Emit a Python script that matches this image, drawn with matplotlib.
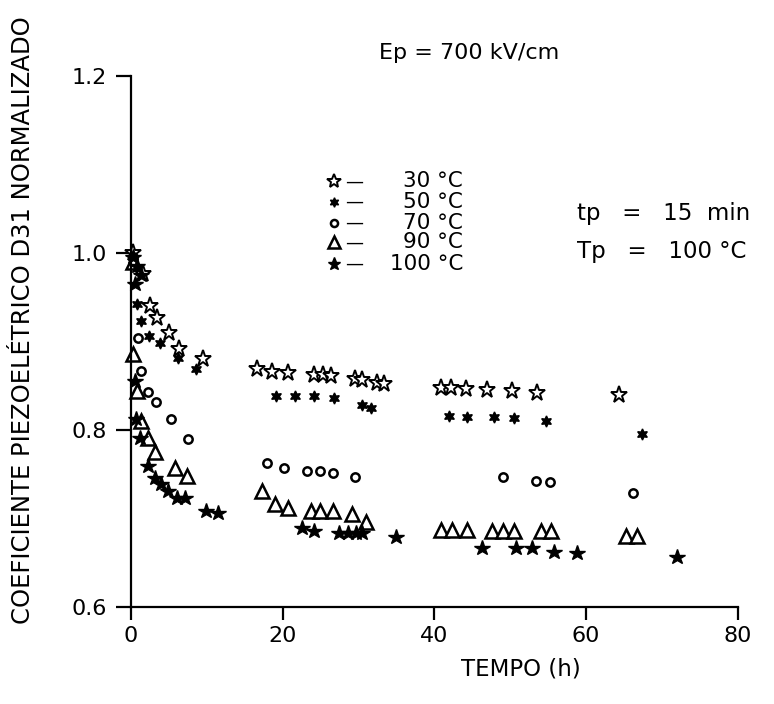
import numpy as np
import matplotlib.pyplot as plt

# tempo (h) e coeficiente d31 normalizado para cada temperatura
t30 = [0.3, 1.6, 2.5, 3.4, 5.1, 6.4, 9.5, 16.7, 18.6, 20.7, 24.2, 25.3, 26.4, 29.5, 30.5,
       32.4, 33.4, 40.9, 42.2, 44.2, 47.0, 50.3, 53.6, 64.3]
d30 = [1.0, 0.976, 0.940, 0.927, 0.910, 0.891, 0.880, 0.869, 0.866, 0.864, 0.862, 0.862,
       0.861, 0.858, 0.856, 0.853, 0.852, 0.847, 0.847, 0.846, 0.845, 0.844, 0.842, 0.840]

t50 = [0.3, 0.8, 1.4, 2.4, 3.8, 6.2, 8.6, 19.2, 21.6, 24.2, 26.8, 30.5, 31.7, 42.0, 44.3,
       47.9, 50.5, 54.7, 67.4]
d50 = [0.99, 0.942, 0.923, 0.906, 0.898, 0.881, 0.869, 0.838, 0.838, 0.838, 0.836, 0.828,
       0.825, 0.816, 0.815, 0.815, 0.814, 0.810, 0.795]

t70 = [0.3, 0.9, 1.3, 2.3, 3.3, 5.3, 7.6, 18.0, 20.2, 23.2, 25.0, 26.6, 29.6, 49.1, 53.4,
       55.2, 66.2]
d70 = [0.995, 0.904, 0.867, 0.843, 0.832, 0.812, 0.790, 0.763, 0.757, 0.753, 0.753, 0.751,
       0.747, 0.747, 0.742, 0.741, 0.729]

t90 = [0.3, 0.3, 0.8, 1.4, 2.3, 3.2, 5.8, 7.4, 17.3, 19.0, 20.7, 23.7, 24.9, 26.6, 29.1,
       31.0, 40.9, 42.4, 44.3, 47.6, 49.1, 50.5, 54.1, 55.4, 65.3, 66.8]
d90 = [0.99, 0.886, 0.844, 0.810, 0.791, 0.775, 0.757, 0.748, 0.731, 0.716, 0.712, 0.708,
       0.708, 0.708, 0.705, 0.696, 0.687, 0.687, 0.687, 0.686, 0.686, 0.686, 0.686, 0.686,
       0.680, 0.680]

t100 = [0.3, 0.8, 1.4, 0.5, 0.5, 0.7, 1.2, 2.3, 3.2, 4.0, 4.9, 6.1, 7.2, 9.9, 11.5, 22.6,
        24.2, 27.5, 28.6, 29.7, 30.5, 35.0, 46.3, 50.8, 52.9, 55.8, 58.8, 72.0]
d100 = [0.995, 0.985, 0.975, 0.965, 0.855, 0.812, 0.791, 0.759, 0.746, 0.739, 0.731, 0.723,
        0.723, 0.708, 0.706, 0.689, 0.686, 0.684, 0.684, 0.684, 0.684, 0.679, 0.667, 0.667,
        0.667, 0.662, 0.661, 0.656]

temps = ["30", "50", "70", "90", "100"]

styles = [
    dict(marker="*", mfc="white", mec="black", ms=12.5, mew=1.4),
    dict(marker=(6, 1, 0), mfc="black", mec="black", ms=8, mew=1),
    dict(marker="o", mfc="white", mec="black", ms=6, mew=1.8),
    dict(marker="^", mfc="white", mec="black", ms=10, mew=1.8),
    dict(marker="*", mfc="black", mec="black", ms=11.5, mew=1),
]
series = [(t30, d30), (t50, d50), (t70, d70), (t90, d90), (t100, d100)]

fig = plt.figure(figsize=(7.74, 7.04), dpi=100)
ax = fig.add_axes([0.169, 0.138, 0.784, 0.754])

for (t, d), st in zip(series, styles):
    ax.plot(t, d, linestyle="none", clip_on=False, **st)

ax.set_xlim(0, 80)
ax.set_ylim(0.6, 1.2)
ax.set_xticks([0, 20, 40, 60, 80])
ax.set_yticks([0.6, 0.8, 1.0, 1.2])
ax.set_yticklabels(["0.6", "0.8", "1.0", "1.2"])
for s in ["top", "right"]:
    ax.spines[s].set_visible(False)
for s in ["left", "bottom"]:
    ax.spines[s].set_linewidth(1.6)
ax.tick_params(axis="y", direction="out", length=11, width=1.6, labelsize=16, pad=6)
ax.tick_params(axis="x", direction="out", length=9, width=1.6, labelsize=16, pad=5)

ax.set_xlabel("TEMPO (h)", fontsize=16.5)
ax.xaxis.set_label_coords(0.642, -0.095)
fig.text(0.03, 0.545, "COEFICIENTE PIEZOELÉTRICO D31 NORMALIZADO", rotation=90,
         fontsize=17.5, ha="center", va="center")

# legenda
leg_y = [1.081, 1.058, 1.034, 1.012, 0.988]
for st, temp, y in zip(styles, temps, leg_y):
    lst = dict(st)
    lst["ms"] = st["ms"] * 0.85
    ax.plot([26.8], [y], linestyle="none", clip_on=False, **lst)
    ax.text(28.2, y, "—", fontsize=13, va="center", ha="left")
    ax.text(43.8, y, f"{temp} °C", fontsize=15.5, va="center", ha="right")

ax.text(44.6, 1.226, "Ep = 700 kV/cm", fontsize=16, ha="center", va="center")
ax.text(58.8, 1.045, "tp   =   15  min", fontsize=16.5, ha="left", va="center")
ax.text(58.8, 1.002, "Tp   =   100 °C", fontsize=16.5, ha="left", va="center")

fig.savefig("out.png", dpi=100)
